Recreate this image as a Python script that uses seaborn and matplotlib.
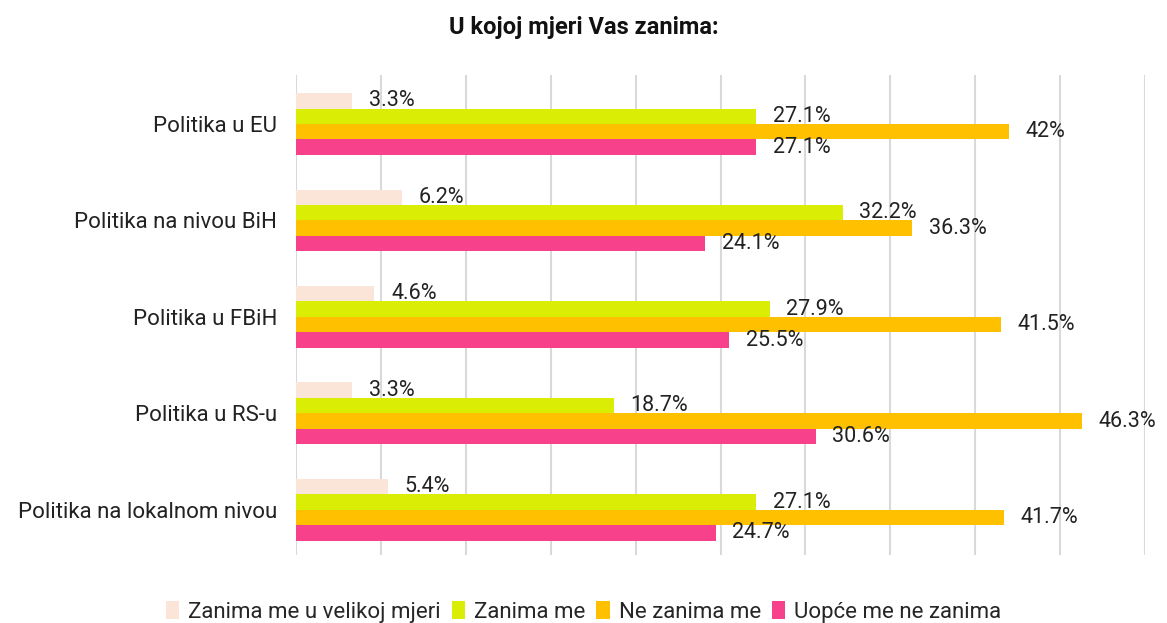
import pandas as pd
import matplotlib.pyplot as plt
import seaborn as sns
from matplotlib.patches import Patch

# Chart data
categories = ["Politika u EU", "Politika na nivou BiH", "Politika u FBiH",
              "Politika u RS-u", "Politika na lokalnom nivou"]
series = ["Zanima me u velikoj mjeri", "Zanima me", "Ne zanima me", "Uopće me ne zanima"]
velikoj = [3.3, 6.2, 4.6, 3.3, 5.4]
zanima = [27.1, 32.2, 27.9, 18.7, 27.1]
ne_zanima = [42.0, 36.3, 41.5, 46.3, 41.7]
uopce = [27.1, 24.1, 25.5, 30.6, 24.7]
colors = ["#FBE5D9", "#D9EE04", "#FFC000", "#F7418A"]

rows = []
for name, vals in zip(series, [velikoj, zanima, ne_zanima, uopce]):
    for cat, v in zip(categories, vals):
        rows.append({"category": cat, "series": name, "value": v})
df = pd.DataFrame(rows)

sns.set_theme(style="white")
plt.rcParams['font.family'] = ['Roboto', 'DejaVu Sans']

fig, ax = plt.subplots(figsize=(11.67, 6.23), dpi=100)
fig.subplots_adjust(left=0.254, right=0.981, top=0.88, bottom=0.109)

sns.barplot(data=df, x="value", y="category", hue="series", order=categories,
            hue_order=series, palette=colors, orient="h", width=0.64,
            dodge=True, saturation=1, legend=False, linewidth=0, ax=ax)

# Data labels
def fmt(v):
    return f"{v:g}%"

for container in ax.containers:
    ax.bar_label(container, labels=[fmt(b.get_width()) for b in container],
                 padding=12, fontsize=15.5, color="#222222")

ax.set_xlim(0, 50)
ax.set_ylim(4.47, -0.51)
ax.set_xticks(range(0, 51, 5))
ax.set_xticklabels([])
ax.grid(axis="x", color="#D9D9D9", linewidth=1.5)
ax.set_axisbelow(True)
for s in ax.spines.values():
    s.set_visible(False)
ax.tick_params(axis="y", length=0, pad=14, labelsize=16, labelcolor="#222222")
ax.tick_params(axis="x", length=0)
ax.set_xlabel("")
ax.set_ylabel("")

fig.suptitle("U kojoj mjeri Vas zanima:", x=0.5, y=0.975, fontsize=17,
             fontweight="bold", color="#111111")

handles = [Patch(facecolor=c, edgecolor="none") for c in colors]
fig.legend(handles, series, loc="lower center", bbox_to_anchor=(0.5, -0.032), ncol=4,
           frameon=False, fontsize=16, handlelength=0.6, handleheight=0.9,
           handletextpad=0.4, columnspacing=0.5)

fig.savefig("out.png", dpi=100)
